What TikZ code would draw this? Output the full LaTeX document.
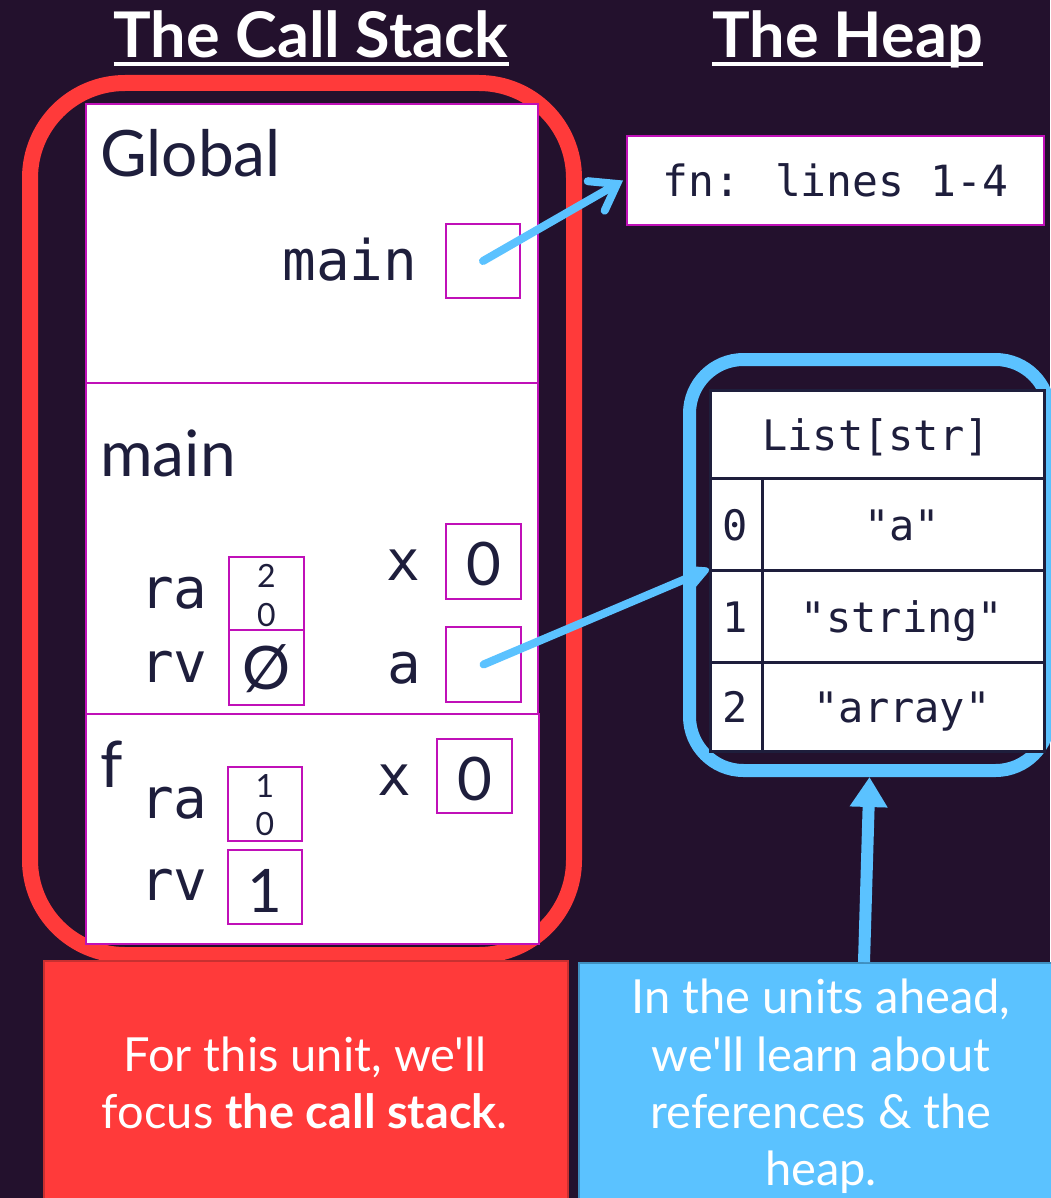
\documentclass[tikz,border=0pt]{standalone}
\usepackage{fontspec}
\setmainfont{Lato}[Ligatures=TeXOff]
\newfontfamily\monof{DejaVu Sans Mono}
\usetikzlibrary{arrows.meta}
\definecolor{bg}{HTML}{23112D}
\definecolor{redc}{HTML}{FF3A3A}
\definecolor{redd}{HTML}{C83030}
\definecolor{bluec}{HTML}{5BC2FF}
\definecolor{blued}{HTML}{3F8FC0}
\definecolor{mag}{HTML}{C010B8}
\definecolor{ink}{HTML}{1E1E3C}
\begin{document}
\begin{tikzpicture}[x=1pt,y=-1pt,
  ttl/.style={inner sep=0, text=white, font=\bfseries\fontsize{63}{63}\selectfont},
  frame/.style={draw=mag, fill=white, line width=2pt, inner sep=0, anchor=north west},
  vbox/.style={draw=mag, line width=2pt, inner sep=0, minimum width=74pt, minimum height=74pt},
  lbl/.style={inner sep=0, text=ink, font=\fontsize{64}{64}\selectfont},
  var/.style={inner sep=0, text=ink, font=\monof\fontsize{56}{56}\selectfont},
  val/.style={inner sep=0, text=ink, font=\fontsize{60}{60}\selectfont},
  tiny/.style={inner sep=0, text=ink, font=\fontsize{32}{32}\selectfont},
  cell/.style={draw=ink, line width=2.5pt, fill=white, inner sep=0, anchor=north west},
  ctxt/.style={inner sep=0, text=ink, font=\monof\fontsize{42}{42}\selectfont},
  btxt/.style={inner sep=0, text=white, font=\fontsize{47}{57}\selectfont},
  ptr/.style={draw=bluec, line width=8pt, line cap=round}
]
\fill[bg] (0,0) rectangle (1050,1198);
\useasboundingbox (0,0) rectangle (1050,1198);

% titles
\node[ttl, anchor=base] (t1) at (311,58) {The Call Stack};
\node[ttl, anchor=base] (t2) at (847.5,58) {The Heap};
\draw[white, line width=4pt] ([yshift=-6pt]t1.base west) -- ([yshift=-6pt]t1.base east);
\draw[white, line width=4pt] ([yshift=-6pt]t2.base west) -- ([yshift=-6pt]t2.base east);

% red stack outline
\node[draw=redc, line width=16pt, rounded corners=95pt, minimum width=544pt, minimum height=872pt,
  anchor=north west, inner sep=0, outer sep=0] (stackframe) at (30,83) {};

% frames
\node[frame, minimum width=452pt, minimum height=279pt] (gframe) at (85,103) {};
\node[frame, minimum width=452pt, minimum height=331pt] (mframe) at (85,382) {};
\node[frame, minimum width=453pt, minimum height=230pt] (fframe) at (85,713) {};

% Global frame
\node[lbl, anchor=base west] (glbl) at (100,177) {Global};
\node[var, anchor=base] (gmain) at (350,280) {main};
\node[vbox] (gmainbox) at (483,261) {};

% main frame
\node[lbl, anchor=base west] (mlbl) at (100,476) {main};
\node[var, anchor=base] (mra) at (174,608) {ra};
\node[var, anchor=base] (mrv) at (174,682) {rv};
\node[vbox, minimum width=75pt, minimum height=73pt] (mrabox) at (266.5,593) {};
\node[vbox, minimum width=75pt, minimum height=75pt] (mrvbox) at (266.5,667) {};
\node[tiny, anchor=base] (mra1) at (266.5,587) {2};
\node[tiny, anchor=base] (mra2) at (266.5,626) {0};
\node[val, anchor=base] (mrvv) at (266.5,689) {Ø};
\node[var, anchor=base] (mx) at (403,580) {x};
\node[vbox, minimum width=75pt, minimum height=75pt] (mxbox) at (483.5,561.5) {};
\node[val, anchor=base] (mxv) at (483.5,585) {0};
\node[var, anchor=base] (ma) at (404,683) {a};
\node[vbox, minimum width=75pt, minimum height=75pt] (mabox) at (483.5,664.5) {};

% f frame
\node[lbl, anchor=base west] (flbl) at (100,787) {f};
\node[var, anchor=base] (fra) at (174,818) {ra};
\node[var, anchor=base] (frv) at (174,900) {rv};
\node[vbox, minimum width=74pt, minimum height=74pt] (frabox) at (265,804) {};
\node[vbox, minimum width=74pt, minimum height=74pt] (frvbox) at (265,887) {};
\node[tiny, anchor=base] (fra1) at (265,797) {1};
\node[tiny, anchor=base] (fra2) at (265,835) {0};
\node[val, anchor=base] (frvv) at (265,912) {1};
\node[var, anchor=base] (fx) at (394,795) {x};
\node[vbox, minimum width=75pt, minimum height=74pt] (fxbox) at (474.5,776) {};
\node[val, anchor=base] (fxv) at (474.5,800) {0};

% heap: function object
\node[draw=mag, fill=white, line width=2pt, inner sep=0, minimum width=417pt, minimum height=89pt,
  font=\monof\fontsize{43}{43}\selectfont, text=ink] (fnbox) at (835.5,180.5) {fn: lines 1-4};

% heap: list
\node[draw=bluec, line width=13pt, rounded corners=54pt, minimum width=360pt, minimum height=411pt,
  inner sep=0] (heapframe) at (869.5,565) {};
\node[cell, minimum width=334pt, minimum height=88pt] (hdr) at (709,389) {};
\node[cell, minimum width=52pt, minimum height=92pt] (i0) at (709,477) {};
\node[cell, minimum width=282pt, minimum height=92pt] (v0) at (761,477) {};
\node[cell, minimum width=52pt, minimum height=92pt] (i1) at (709,569) {};
\node[cell, minimum width=282pt, minimum height=92pt] (v1) at (761,569) {};
\node[cell, minimum width=52pt, minimum height=89pt] (i2) at (709,661) {};
\node[cell, minimum width=282pt, minimum height=89pt] (v2) at (761,661) {};
\node[ctxt, anchor=base] (hdrt) at (876,450) {List[str]};
\node[ctxt, anchor=base] (i0t) at (735,540) {0};
\node[ctxt, anchor=base] (v0t) at (902,540) {"a"};
\node[ctxt, anchor=base] (i1t) at (735,632) {1};
\node[ctxt, anchor=base] (v1t) at (902,632) {"string"};
\node[ctxt, anchor=base] (i2t) at (735,722) {2};
\node[ctxt, anchor=base] (v2t) at (902,722) {"array"};

% pointers
\draw[ptr, -{Straight Barb[length=24pt, width=34pt, line cap=round]}] (gmainbox.center) -- ([xshift=-3pt]fnbox.west);
\draw[ptr, -{Stealth[round, length=30pt, width=30pt, inset=8pt]}] (mabox.center) -- (i1.north west);

% bottom boxes
\node[fill=redc, draw=redd, line width=2pt, minimum width=524pt, minimum height=260pt, anchor=north west, inner sep=0] (redbox) at (43,960) {};
\node[fill=bluec, draw=blued, line width=2pt, minimum width=480pt, minimum height=260pt, anchor=north west, inner sep=0] (bluebox) at (578,962) {};
\draw[bluec, line width=12pt, -{Triangle[length=30pt, width=36pt]}] ([xshift=45pt]bluebox.north) -- ([xshift=0pt]heapframe.south);

\node[btxt, anchor=base] (r1) at (305,1071) {For this unit, we'll};
\node[btxt, anchor=base] (r2) at (305,1128) {focus \textbf{the call stack}.};
\node[btxt, anchor=base] (b1) at (821,1013) {In the units ahead,};
\node[btxt, anchor=base] (b2) at (821,1071) {we'll learn about};
\node[btxt, anchor=base] (b3) at (821,1128) {references \& the};
\node[btxt, anchor=base] (b4) at (821,1185) {heap.};
\end{tikzpicture}
\end{document}
